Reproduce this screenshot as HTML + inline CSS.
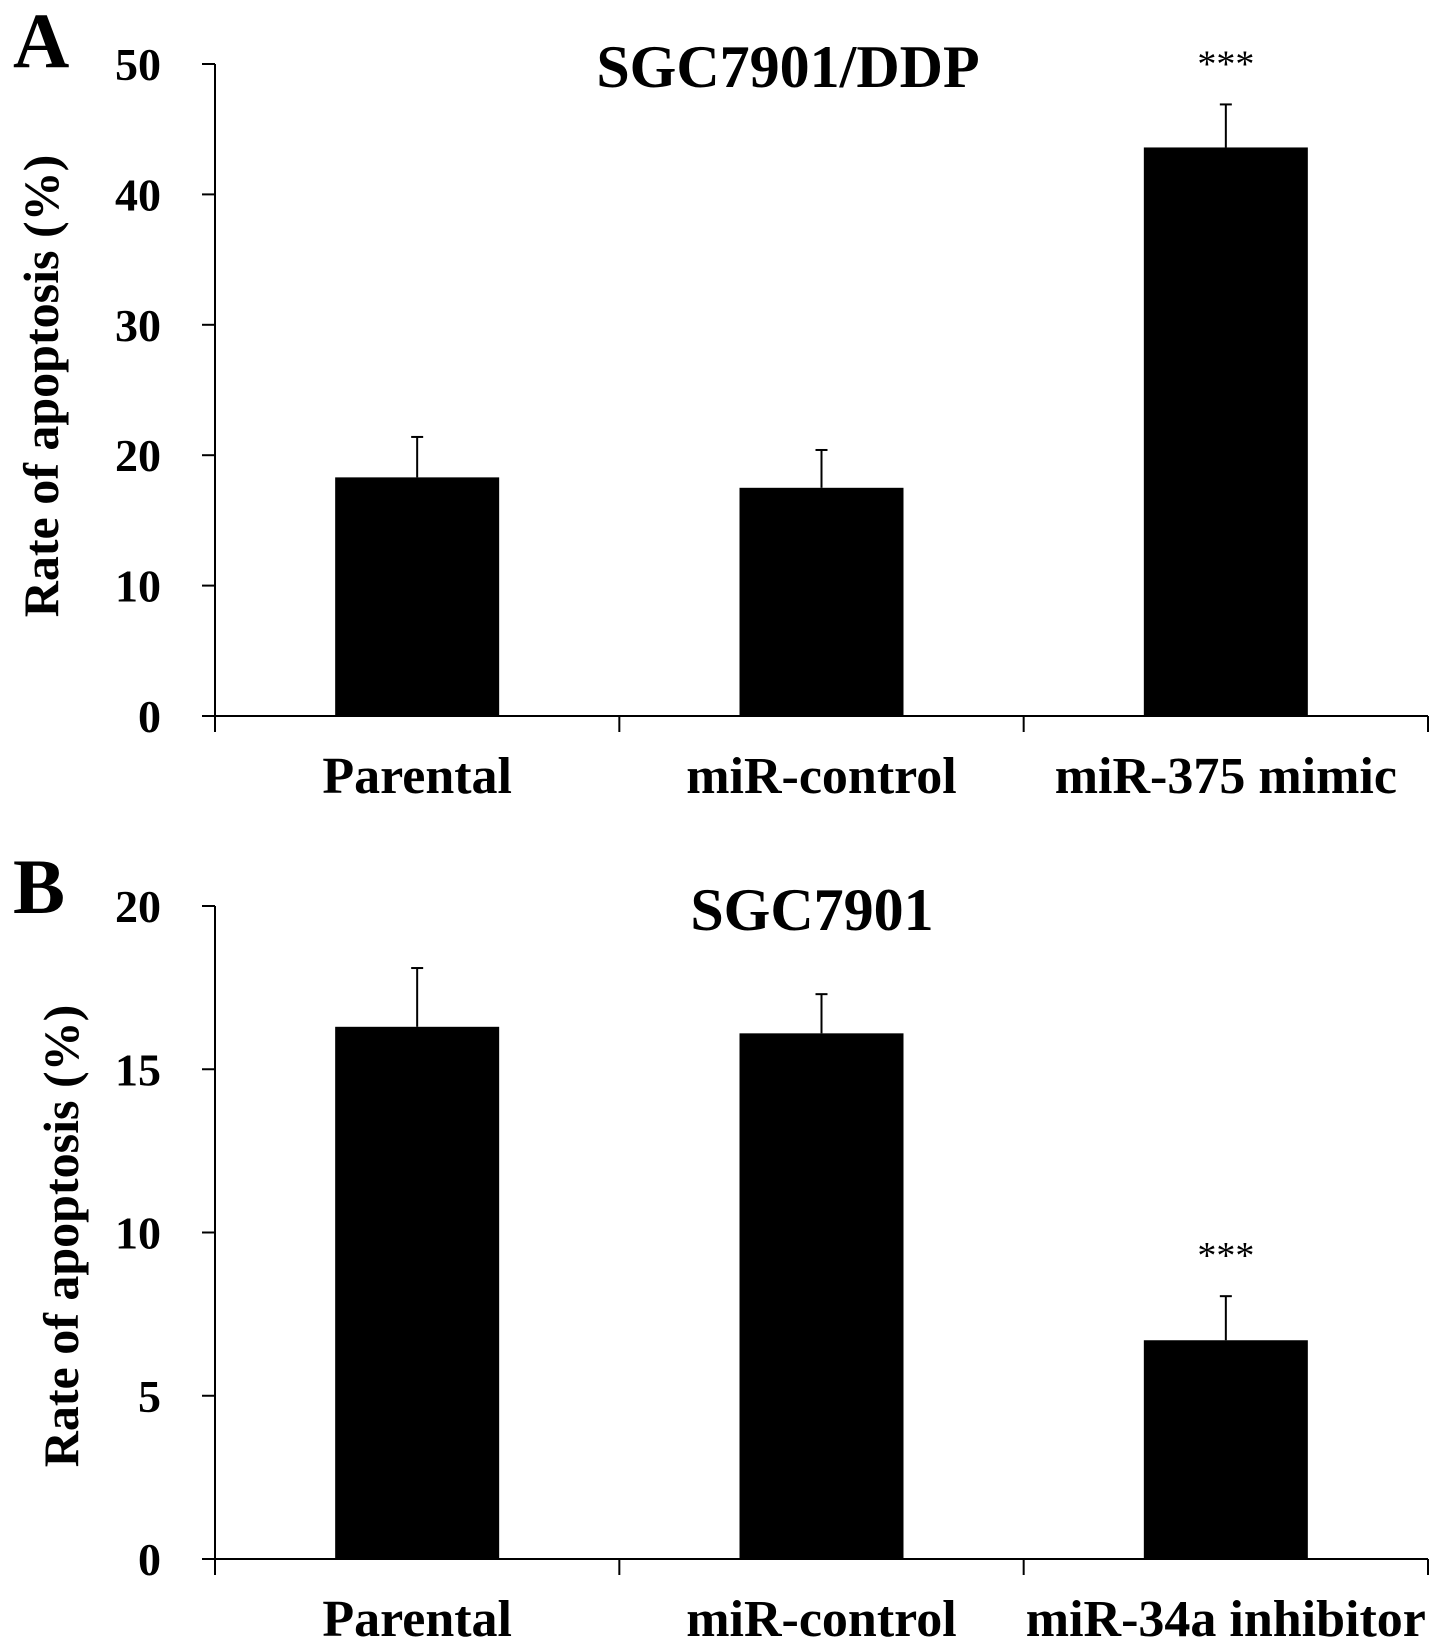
<!DOCTYPE html>
<html><head><meta charset="utf-8"><style>
html,body{margin:0;padding:0;background:#fff}
svg{display:block}
text{font-family:"Liberation Serif",serif;fill:#000}
</style></head><body>
<svg id="chart" width="1441" height="1644" viewBox="0 0 1441 1644" xmlns="http://www.w3.org/2000/svg"></svg>
<script>
const categoriesA = ["Parental", "miR-control", "miR-375 mimic"];
const valuesA = [18.3, 17.5, 43.6];
const errorsA = [3.1, 2.9, 3.3];
const ticksA = [0, 10, 20, 30, 40, 50];
const sigA = ["", "", "***"];

const categoriesB = ["Parental", "miR-control", "miR-34a inhibitor"];
const valuesB = [16.3, 16.1, 6.7];
const errorsB = [1.8, 1.2, 1.35];
const ticksB = [0, 5, 10, 15, 20];
const sigB = ["", "", "***"];

const NS = "http://www.w3.org/2000/svg";
const svg = document.getElementById("chart");
function mk(tag, attrs, parent) {
  const e = document.createElementNS(NS, tag);
  for (const k in attrs) e.setAttribute(k, attrs[k]);
  (parent || svg).appendChild(e);
  return e;
}

function panel(opts) {
  const g = mk("g", {});
  
  
  const x0 = 215, x1 = 1428;
  const y0 = opts.y0, yTop = opts.yTop, maxV = opts.maxV;
  const yScale = v => y0 - (v / maxV) * (y0 - yTop);
  const n = opts.cats.length;
  const bandW = (x1 - x0) / n;
  const xBand = i => x0 + i * bandW;
  const barW = 164;

  const L = mk("text", {x: 13, y: opts.letterY, "font-size": 78, "font-weight": "bold"}, g);
  L.textContent = opts.letter;
  
  

  const T = mk("text", {x: opts.titleX, y: opts.titleY, "font-size": 60, "font-weight": "bold", "text-anchor": "middle"}, g);
  T.textContent = opts.title;
  
  

  const YT = mk("text", {x: 0, y: 0, "font-size": 50, "font-weight": "bold", "text-anchor": "middle",
    transform: `translate(${opts.ytX},${opts.ytY}) rotate(-90)`}, g);
  YT.textContent = "Rate of apoptosis (%)";
  
  

  const ya = mk("line", {x1: x0, y1: yScale(maxV), x2: x0, y2: y0 + 1, stroke: "#000", "stroke-width": 2}, g);
  
  
  opts.ticks.forEach(t => {
    const y = yScale(t);
    const tk = mk("line", {x1: x0 - 13, y1: y, x2: x0, y2: y, stroke: "#000", "stroke-width": 2}, g);
    
    
    const tl = mk("text", {x: 161, y: y + 16, "font-size": 46, "font-weight": "bold", "text-anchor": "end"}, g);
    tl.textContent = t;
    
    
  });

  const xa = mk("line", {x1: x0 - 13, y1: y0, x2: x1, y2: y0, stroke: "#000", "stroke-width": 2}, g);
  
  
  for (let i = 0; i <= n; i++) {
    const tk = mk("line", {x1: xBand(i), y1: y0, x2: xBand(i), y2: y0 + 16, stroke: "#000", "stroke-width": 2}, g);
    
    
  }

  opts.cats.forEach((c, i) => {
    const cx = xBand(i) + bandW / 2;
    const v = opts.vals[i];
    const bar = mk("rect", {x: cx - barW / 2, y: yScale(v), width: barW, height: y0 - yScale(v), fill: "#000"}, g);
    
    
    const top = yScale(v + opts.errs[i]);
    const eb = mk("line", {x1: cx, y1: yScale(v), x2: cx, y2: top, stroke: "#000", "stroke-width": 2}, g);
    
    
    const cap = mk("line", {x1: cx - 6, y1: top, x2: cx + 6, y2: top, stroke: "#000", "stroke-width": 2}, g);
    
    
    if (opts.sig[i]) {
      const s = mk("text", {x: cx, y: top - 28, "font-size": 38, "text-anchor": "middle"}, g);
      s.textContent = opts.sig[i];
      
      
    }
    const lab = mk("text", {x: cx, y: y0 + 77, "font-size": 52, "font-weight": "bold", "text-anchor": "middle"}, g);
    lab.textContent = c;
    
    
  });
}

panel({name: "panel-a", letter: "A", letterY: 67, title: "SGC7901/DDP", titleX: 788, titleY: 87,
  y0: 716, yTop: 64, maxV: 50, ticks: ticksA, cats: categoriesA, vals: valuesA, errs: errorsA, sig: sigA,
  ytX: 58, ytY: 386});
panel({name: "panel-b", letter: "B", letterY: 913, title: "SGC7901", titleX: 812, titleY: 930,
  y0: 1559, yTop: 906, maxV: 20, ticks: ticksB, cats: categoriesB, vals: valuesB, errs: errorsB, sig: sigB,
  ytX: 78, ytY: 1236});
</script>
</body></html>
